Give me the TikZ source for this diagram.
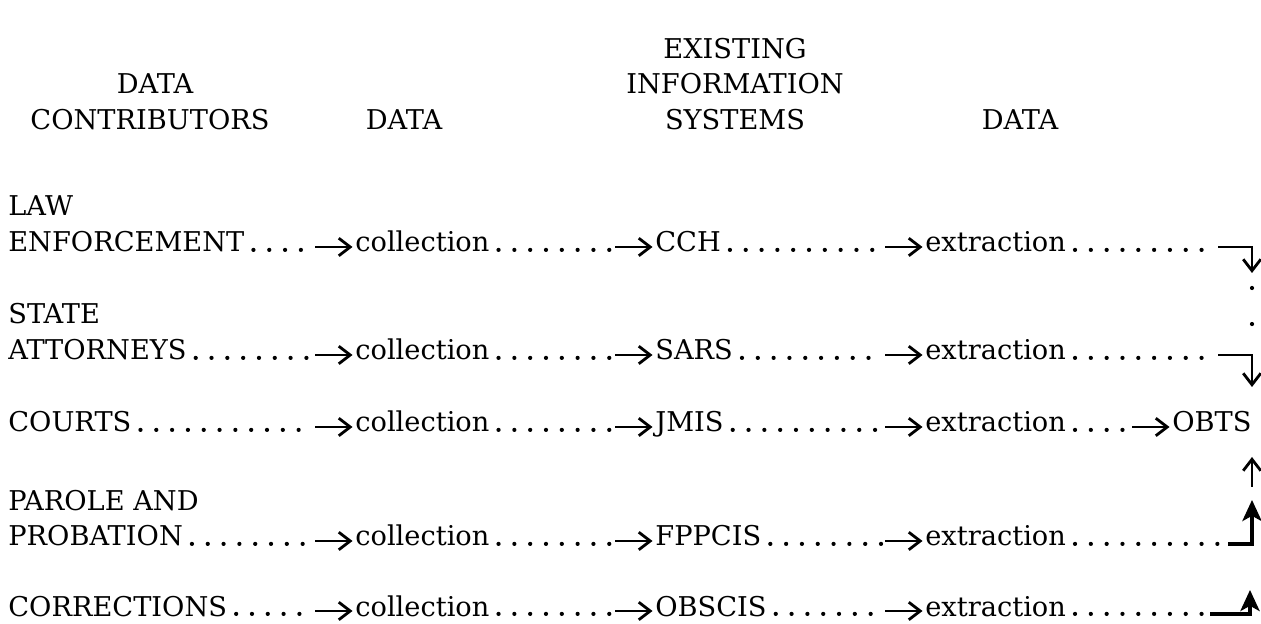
\documentclass[tikz,border=0pt]{standalone}
\usepackage{fontspec}
\setmainfont{DejaVu Serif}
\usepackage{tikz}
\usetikzlibrary{arrows.meta}
\usetikzlibrary{decorations.markings}
\usetikzlibrary{positioning}
\newcommand{\lblfont}{\fontsize{15.5}{19}\selectfont}
\tikzset{lbl/.style = {inner sep=0pt, anchor=base west, font=\lblfont}}
\tikzset{hdr/.style = {inner sep=0pt, anchor=base, font=\lblfont}}
\tikzset{arr/.style = {line width=1.6pt, -{Straight Barb[length=6.5pt, width=10pt]}}}
\tikzset{uparr/.style = {line width=1.8pt, -{Stealth[length=12pt, width=11pt, inset=3pt]}}}
\tikzset{dotline/.style = {line width=2.4pt, line cap=round, dash pattern=on 0pt off 9pt}}
\tikzset{lead/.style = {postaction={draw, dotline, shorten <=5pt,
                                    transform canvas={yshift=1.2pt}}}}
\tikzset{flow/.style = {postaction={draw, dotline, shorten <=5pt, shorten >=25pt,
                                    transform canvas={yshift=1.2pt}},
                        postaction={decorate, decoration={markings,
                                    mark=at position 1 with {\draw[arr] (-0.8, 0.1) -- (-0.05, 0.1);}}}}}

\begin{document}
\begin{tikzpicture}
    \useasboundingbox (0, 0) rectangle (25.22, -12.48);

    % headings
    \node [hdr] (hdata) at (3.1, -1.88) {DATA};
    \node [hdr] (hcontr) at (3.0, -2.6) {CONTRIBUTORS};
    \node [hdr] (hcoll) at (8.08, -2.6) {DATA};
    \node [hdr] (hexist) at (14.7, -1.18) {EXISTING};
    \node [hdr] (hinfo) at (14.7, -1.88) {INFORMATION};
    \node [hdr] (hsys) at (14.7, -2.6) {SYSTEMS};
    \node [hdr] (hextr) at (20.4, -2.6) {DATA};

    % row 1
    \node [lbl] (enf) at (0.16, -5.04) {ENFORCEMENT};
    \node [lbl, above=0.72cm of enf.base west, anchor=base west] (law) {LAW};
    \node [lbl] (coll1) at (7.1, -5.04) {collection};
    \node [lbl] (cch) at (13.1, -5.04) {CCH};
    \node [lbl] (extr1) at (18.5, -5.04) {extraction};

    % row 2
    \node [lbl] (att) at (0.16, -7.2) {ATTORNEYS};
    \node [lbl, above=0.72cm of att.base west, anchor=base west] (state) {STATE};
    \node [lbl] (coll2) at (7.1, -7.2) {collection};
    \node [lbl] (sars) at (13.1, -7.2) {SARS};
    \node [lbl] (extr2) at (18.5, -7.2) {extraction};

    % row 3
    \node [lbl] (courts) at (0.16, -8.64) {COURTS};
    \node [lbl] (coll3) at (7.1, -8.64) {collection};
    \node [lbl] (jmis) at (13.1, -8.64) {JMIS};
    \node [lbl] (extr3) at (18.5, -8.64) {extraction};
    \node [lbl] (obts) at (23.44, -8.64) {OBTS};

    % row 4
    \node [lbl] (prob) at (0.16, -10.92) {PROBATION};
    \node [lbl, above=0.7cm of prob.base west, anchor=base west] (parole) {PAROLE AND};
    \node [lbl] (coll4) at (7.1, -10.92) {collection};
    \node [lbl] (fppcis) at (13.1, -10.92) {FPPCIS};
    \node [lbl] (extr4) at (18.5, -10.92) {extraction};

    % row 5
    \node [lbl] (corr) at (0.16, -12.32) {CORRECTIONS};
    \node [lbl] (coll5) at (7.1, -12.32) {collection};
    \node [lbl] (obscis) at (13.1, -12.32) {OBSCIS};
    \node [lbl] (extr5) at (18.5, -12.32) {extraction};

    \path [flow] (enf.base east) -- (coll1.base west);
    \path [flow] (coll1.base east) -- (cch.base west);
    \path [flow] (cch.base east) -- (extr1.base west);

    \path [flow] (att.base east) -- (coll2.base west);
    \path [flow] (coll2.base east) -- (sars.base west);
    \path [flow] (sars.base east) -- (extr2.base west);

    \path [flow] (courts.base east) -- (coll3.base west);
    \path [flow] (coll3.base east) -- (jmis.base west);
    \path [flow] (jmis.base east) -- (extr3.base west);
    \path [flow] (extr3.base east) -- (obts.base west);

    \path [flow] (prob.base east) -- (coll4.base west);
    \path [flow] (coll4.base east) -- (fppcis.base west);
    \path [flow] (fppcis.base east) -- (extr4.base west);

    \path [flow] (corr.base east) -- (coll5.base west);
    \path [flow] (coll5.base east) -- (obscis.base west);
    \path [flow] (obscis.base east) -- (extr5.base west);

    % turns into OBTS
    \coordinate (k1) at (24.25, -5.04);
    \coordinate (k2) at (24.25, -7.2);
    \coordinate (k4) at (24.45, -10.92);
    \coordinate (k5) at (24.1, -12.32);
    \path [lead] (extr1.base east) -- (k1);
    \path [lead] (extr2.base east) -- (k2);
    \path [lead] (extr4.base east) -- (k4);
    \path [lead] (extr5.base east) -- (k5);

    \draw [arr] (24.36, -4.94) -| (25.04, -5.46);
    \draw [dotline, dash pattern=on 0pt off 20.5pt] (25.04, -5.76) -- (25.04, -6.5);
    \draw [arr] (24.36, -7.1) -| (25.04, -7.74);
    \draw [arr] (25.04, -9.74) -- (25.04, -9.14);
    \draw [uparr] (24.56, -10.88) -| (25.04, -10.0);
    \draw [uparr] (24.2, -12.28) -| (25.0, -11.8);
\end{tikzpicture}
\end{document}
